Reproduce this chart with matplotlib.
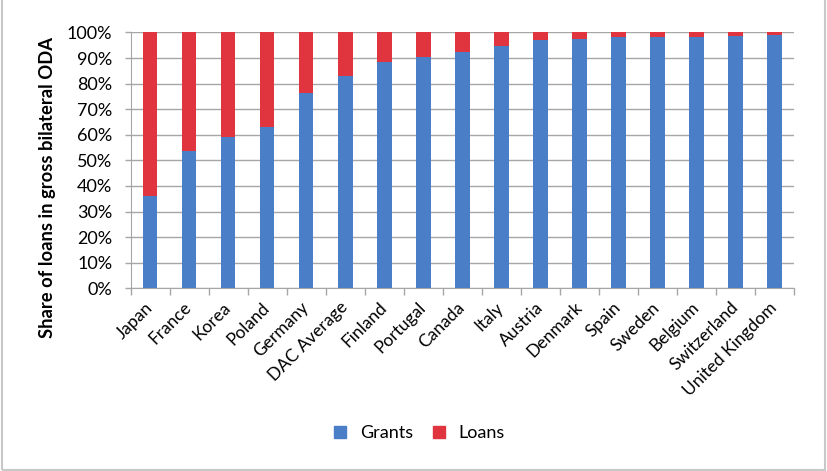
import numpy as np
import matplotlib.pyplot as plt
from matplotlib.lines import Line2D

# Data
countries = ['Japan', 'France', 'Korea', 'Poland', 'Germany', 'DAC Average',
             'Finland', 'Portugal', 'Canada', 'Italy', 'Austria', 'Denmark',
             'Spain', 'Sweden', 'Belgium', 'Switzerland', 'United Kingdom']
grants = [36.1, 53.7, 59.1, 63.2, 76.5, 82.8, 88.4, 90.4, 92.3, 94.8,
          96.9, 97.6, 98.3, 98.3, 98.2, 98.7, 99.1]
loans = [100 - g for g in grants]

blue = '#4a7ec6'
red = '#e0353f'
grid_col = '#a6a6a6'

plt.rcParams['font.family'] = ['Lato', 'DejaVu Sans']

fig = plt.figure(figsize=(8.27, 4.71), dpi=100)
ax = fig.add_axes([0.1578, 0.388, 0.8023, 0.543])

x = np.arange(len(countries))
ax.bar(x, grants, width=0.376, color=blue, zorder=3)
ax.bar(x, loans, width=0.376, bottom=grants, color=red, zorder=3)

ax.set_xlim(-0.5, len(countries) - 0.5)
ax.set_ylim(0, 100)
ax.set_yticks(np.arange(0, 101, 10))
ax.set_yticklabels([f'{v}%' for v in range(0, 101, 10)], fontsize=13)
ax.yaxis.grid(True, color=grid_col, linewidth=1, zorder=0)
ax.tick_params(axis='y', length=4, width=1, color=grid_col, pad=9)

ax.set_xticks(x)
ax.set_xticklabels(countries, rotation=45, ha='right', va='center',
                   rotation_mode='anchor', fontsize=12.5)
ax.tick_params(axis='x', which='major', length=0, pad=12)
ax.set_xticks(np.arange(-0.5, len(countries)), minor=True)
ax.tick_params(axis='x', which='minor', length=5, color=grid_col, width=1)

for s in ['top', 'right']:
    ax.spines[s].set_visible(False)
for s in ['left', 'bottom']:
    ax.spines[s].set_color(grid_col)

fig.text(48 / 827, 1 - 187 / 471, 'Share of loans in gross bilateral ODA',
         rotation=90, ha='center', va='center', fontsize=13.2, fontweight='bold')

handles = [Line2D([], [], marker='s', linestyle='', color=blue, markersize=9),
           Line2D([], [], marker='s', linestyle='', color=red, markersize=9)]
fig.legend(handles, ['Grants', 'Loans'], loc='center', bbox_to_anchor=(0.500, 0.081),
           ncol=2, frameon=False, fontsize=13, handletextpad=0.1, columnspacing=0.4)

# light grey frame around the figure
fig.add_artist(plt.Rectangle((0.003, 0.002), 0.995, 1.1, transform=fig.transFigure,
                             fill=False, edgecolor='#c8c8c8', linewidth=1.5))

fig.savefig('out.png', dpi=100)
